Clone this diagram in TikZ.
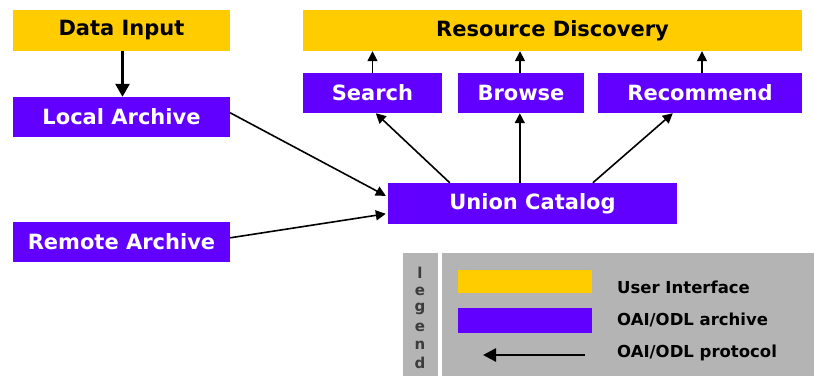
\documentclass[tikz,border=0pt]{standalone}
\usepackage{fontspec}
\setmainfont{DejaVu Sans}
\usetikzlibrary{arrows.meta,calc}
\definecolor{uiyellow}{RGB}{255,204,0}
\definecolor{oaipurple}{RGB}{98,0,255}
\definecolor{leggray}{RGB}{180,180,180}
\definecolor{legtext}{RGB}{60,60,60}
\tikzset{
  ubox/.style={fill=uiyellow, draw=none, inner sep=0pt, text=black,
    font=\fontsize{21}{24}\selectfont\bfseries},
  abox/.style={fill=oaipurple, draw=none, inner sep=0pt, text=white,
    font=\fontsize{21}{24}\selectfont\bfseries},
  conn/.style={draw=black, line width=1.6pt, -{Triangle[length=10pt,width=10pt]}},
  legtxt/.style={anchor=west, inner sep=0pt, text=black,
    font=\fontsize{16.5}{19}\selectfont\bfseries},
  legletter/.style={inner sep=0pt, text=legtext, font=\fontsize{15}{17}\selectfont\bfseries}
}
\begin{document}
\begin{tikzpicture}[x=1pt,y=-1pt]
\useasboundingbox (0,0) rectangle (814,376);
% main nodes
\node[ubox, minimum width=217pt, minimum height=41pt] (di) at (121.5,30.5) {Data Input};
\node[abox, minimum width=217pt, minimum height=40pt] (la) at (121.5,117) {Local Archive};
\node[abox, minimum width=217pt, minimum height=40pt] (ra) at (121.5,242) {Remote Archive};
\node[ubox, minimum width=499pt, minimum height=41pt] (rd) at (552.5,30.5) {Resource Discovery};
\node[abox, minimum width=139pt, minimum height=40pt] (se) at (372.5,93) {Search};
\node[abox, minimum width=126pt, minimum height=40pt] (br) at (521,93) {Browse};
\node[abox, minimum width=204pt, minimum height=40pt] (re) at (700,93) {Recommend};
\node[abox, minimum width=289pt, minimum height=41pt] (uc) at (532.5,203.5) {Union Catalog};
% connectors
\draw[draw=black, line width=2.6pt, -{Triangle[length=13pt,width=14pt]}] ($(di.south)+(1,0)$) -- ($(la.north)+(1,0)$);
\draw[conn] (se.north) -- (se.north |- rd.south);
\draw[conn] ($(br.north)+(-1,0)$) -- ($(br.north |- rd.south)+(-1,0)$);
\draw[conn] ($(re.north)+(2,0)$) -- ($(re.north |- rd.south)+(2,0)$);
\draw[conn] ($(uc.north west)+(62,0)$) -- ($(se.south west)+(73,0)$);
\draw[conn] ($(uc.north west)+(132,0)$) -- ($(br.south west)+(62,0)$);
\draw[conn] ($(uc.north west)+(205,0)$) -- ($(re.south west)+(75,0)$);
\draw[conn] ($(la.north east)+(0,16)$) -- ($(uc.north west)+(-2,13)$);
\draw[conn] ($(ra.north east)+(0,16)$) -- ($(uc.north west)+(-2,31)$);
% legend
\node[fill=leggray, draw=none, inner sep=0pt, minimum width=35pt, minimum height=123pt, anchor=north west] (strip) at (403,253) {};
\node[fill=leggray, draw=none, inner sep=0pt, minimum width=372pt, minimum height=123pt, anchor=north west] (panel) at (442,253) {};
\node[legletter] (l1) at (420,273) {l};
\node[legletter] (l2) at (420,291) {e};
\node[legletter] (l3) at (420,309) {g};
\node[legletter] (l4) at (420,327) {e};
\node[legletter] (l5) at (420,345) {n};
\node[legletter] (l6) at (420,363) {d};
\node[fill=uiyellow, inner sep=0pt, minimum width=134pt, minimum height=23pt] (sw1) at (525,281.5) {};
\node[fill=oaipurple, inner sep=0pt, minimum width=134pt, minimum height=25pt] (sw2) at (525,320.5) {};
\coordinate (ar1) at (585,355);
\coordinate (ar2) at (483,355);
\draw[line width=2.6pt, -{Triangle[length=13pt,width=13pt]}] (ar1) -- (ar2);
\node[legtxt] (t1) at (617,287) {User Interface};
\node[legtxt] (t2) at (617,320) {OAI/ODL archive};
\node[legtxt] (t3) at (617,353) {OAI/ODL protocol};
\end{tikzpicture}
\end{document}
